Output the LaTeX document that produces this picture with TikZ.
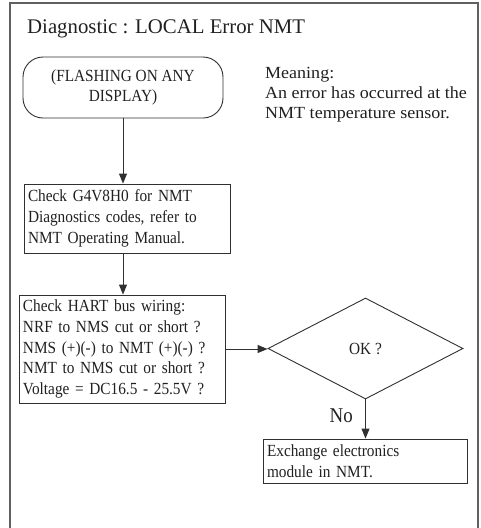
\documentclass[tikz,border=0pt]{standalone}
\usepackage{fontspec}
\setmainfont{Liberation Serif}
\newfontfamily\boxfont[FakeStretch=0.9]{Liberation Serif}
\newfontfamily\meanfont[FakeStretch=1.06]{Liberation Serif}
\usetikzlibrary{shapes.geometric,arrows.meta}
\definecolor{linec}{HTML}{303030}
\definecolor{framec}{HTML}{606060}
\definecolor{textc}{HTML}{202020}
\tikzset{
  boxtext/.style={font=\boxfont\fontsize{17}{20.7}\selectfont, text=textc},
  stepbox/.style={draw=linec, line width=0.9pt, rectangle, inner xsep=4pt, inner ysep=0pt, align=left, boxtext},
  startbox/.style={draw=linec, line width=0.9pt, rectangle, rounded corners=20pt, align=center, boxtext, inner sep=0pt},
  decbox/.style={draw=linec, line width=0.9pt, diamond, inner sep=0pt, boxtext},
  arr/.style={draw=linec, line width=1pt, -{Triangle[length=10pt,width=8pt]}},
}
\begin{document}
\begin{tikzpicture}[x=1pt,y=-1pt]
\useasboundingbox (0,0) rectangle (481,528);
\draw[framec, line width=2pt] (10,529) -- (10,3) -- (478,3) -- (478,529);
\node[anchor=base west, font=\fontsize{20.8}{25}\selectfont, text=textc, inner sep=0pt] (title) at (27,33) {Diagnostic : LOCAL Error NMT};
\node[startbox, minimum width=200pt, minimum height=61pt] (start) at (123,87.5) {(FLASHING ON ANY\\DISPLAY)};
\node[anchor=north west, align=left, inner sep=0pt, font=\meanfont\fontsize{17}{20}\selectfont, text=textc] (meaning) at (265,67.5) {Meaning:\\An error has occurred at the\\NMT temperature sensor.};
\node[stepbox, minimum width=206pt, minimum height=69pt, text width=198pt] (check1) at (127,218.5) {Check G4V8H0 for NMT\\Diagnostics codes, refer to\\NMT Operating Manual.};
\node[stepbox, minimum width=206pt, minimum height=108pt, text width=198pt] (check2) at (122,349) {Check HART bus wiring:\\NRF to NMS cut or short ?\\NMS (+)(-) to NMT (+)(-) ?\\NMT to NMS cut or short ?\\Voltage = DC16.5 - 25.5V ?};
\node[decbox, minimum width=195pt, minimum height=101pt] (ok) at (365.5,348.5) {OK ?};
\node[stepbox, minimum width=204pt, minimum height=44pt, text width=196pt] (exch) at (365,461) {Exchange electronics\\module in NMT.};
\coordinate (c1bot) at (start.south |- check1.south);
\coordinate (c2top) at (start.south |- check2.north);
\draw[arr] (start.south) -- (start.south |- check1.north);
\draw[arr] (c1bot) -- (c2top);
\draw[arr] (check2.east) -- (check2.east -| ok.west);
\draw[arr] (ok.south) -- (ok.south |- exch.north);
\node[anchor=east, font=\boxfont\fontsize{21}{24}\selectfont, text=textc, inner sep=0pt] (no) at (353,416) {No};
\end{tikzpicture}
\end{document}
